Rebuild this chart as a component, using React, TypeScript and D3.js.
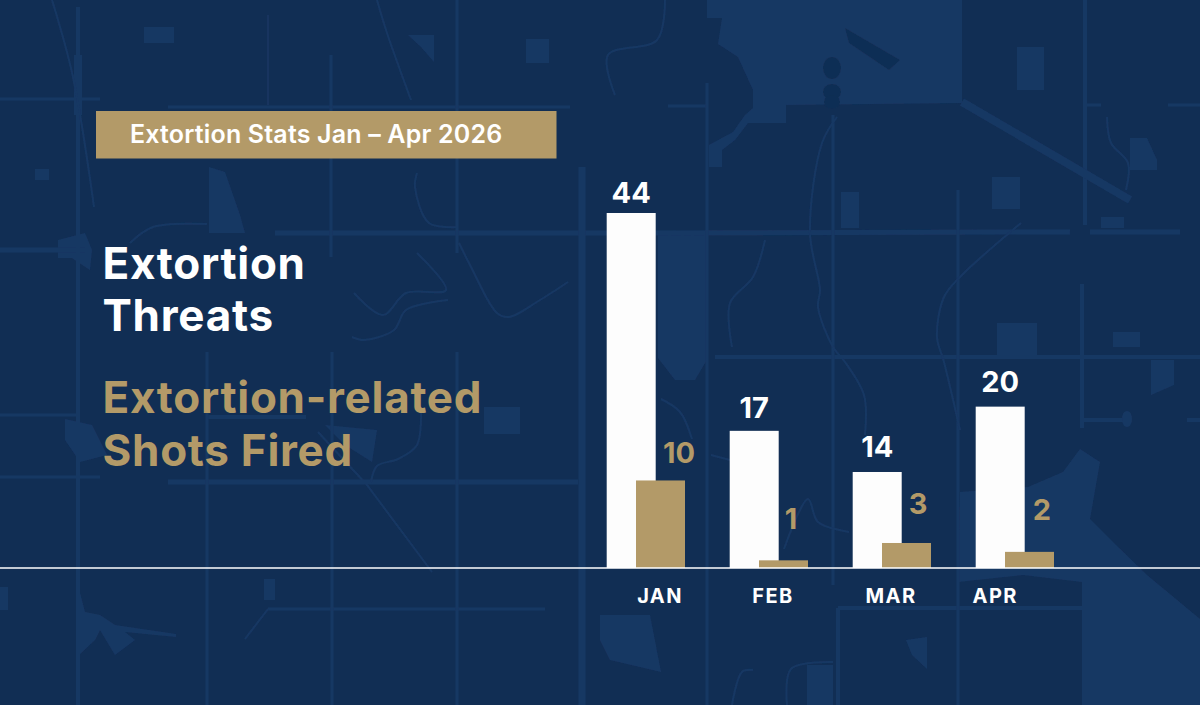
import * as d3 from "d3";

const months = ["JAN", "FEB", "MAR", "APR"];
const threats = [44, 17, 14, 20];
const shotsFired = [10, 1, 3, 2];
// the graphic does not draw every bar to its printed value, so lengths are read off separately
const threatBarLengths = [44, 17, 11.9, 20];
const shotBarLengths = [10.85, 0.95, 3.1, 2];

const width = 1200;
const height = 705;
const baseline = 568;
const barWidth = 49;
const barOverlap = 29.3;

const NAVY = "#112e54";
const ROAD = "#183763";
const TAN = "#b39a68";

// hand placed label nudges, same order as months
const monthLabelDx = [53.3, 43.3, 38.3, 19.5];
const threatLabelGap = [10, 12.7, 15, 14.4];
const shotLabelDx = [18.5, 7.5, 11.5, 12.5];
const shotLabelGap = [17.5, 31.5, 29, 32];

type Pt = [number, number];

// map backdrop
const mainRoads: [Pt[], number][] = [
  [[[0, 99], [100, 99]], 3],
  [[[0, 250], [85, 250]], 5],
  [[[0, 415], [80, 415]], 3],
  [[[0, 477], [100, 477]], 3],
  [[[275, 233], [600, 233], [1070, 232]], 5],
  [[[1090, 232], [1180, 232]], 5],
  [[[168, 107], [570, 107]], 3],
  [[[168, 482], [578, 482]], 5],
  [[[715, 357], [1200, 357]], 4],
  [[[207, 417], [306, 417]], 4],
  [[[268, 609], [545, 609]], 3],
  [[[838, 608], [1083, 608]], 4],
  [[[668, 106], [707, 106]], 3],
  [[[1086, 105], [1101, 105]], 3],
  [[[1168, 105], [1200, 105]], 3],
  [[[1082, 420], [1128, 420]], 4],
  [[[1187, 420], [1200, 420]], 4],
  [[[78, 7], [78, 705]], 4],
  [[[78, 55], [78, 115]], 8],
  [[[207, 352], [207, 705]], 3],
  [[[331, 55], [331, 257]], 3],
  [[[332, 352], [332, 705]], 3],
  [[[457, 0], [457, 253]], 3],
  [[[457, 352], [457, 705]], 3],
  [[[582, 167], [582, 705]], 7],
  [[[268, 15], [268, 105]], 1.5],
  [[[707, 83], [707, 705]], 3],
  [[[833, 115], [833, 585]], 3],
  [[[958, 190], [958, 705]], 3],
  [[[1085, 0], [1085, 225]], 4],
  [[[1082, 284], [1082, 428]], 4],
  [[[838, 608], [838, 705]], 4],
  [[[962, 102], [1130, 200]], 8],
  [[[318, 432], [367, 485], [432, 572]], 2],
];

const curvedRoads: Pt[][] = [
  [[130, 243], [153, 227], [207, 224]],
  [[377, 0], [387, 33], [411, 100]],
  [[417, 173], [415, 187], [429, 223], [457, 227]],
  [[459, 243], [471, 267], [497, 313], [509, 317], [540, 300], [568, 282]],
  [[417, 253], [446, 290], [406, 293], [383, 315], [354, 293]],
  [[448, 300], [406, 310], [394, 330], [364, 340], [352, 337]],
  [[52, 0], [73, 77], [94, 207]],
  [[421, 409], [417, 445], [398, 459], [377, 466], [371, 482]],
  [[245, 639], [268, 609]],
  [[665, 0], [657, 40], [608, 55], [615, 95]],
  [[837, 117], [822, 143], [810, 233], [820, 290], [818, 307], [833, 347], [845, 362], [864, 395], [865, 435]],
  [[1021, 223], [960, 277], [944, 297], [937, 337], [944, 362], [960, 430]],
  [[765, 240], [753, 277], [730, 303], [732, 347]],
  [[661, 399], [680, 412], [692, 439]],
  [[711, 455], [730, 460]],
  [[784, 549], [808, 499], [818, 522], [849, 532]],
  [[1107, 117], [1111, 143], [1128, 163], [1126, 190]],
  [[732, 705], [742, 672], [753, 670]],
  [[787, 705], [791, 669], [833, 662]],
];

const lightAreas: Pt[][] = [
  [[707, 0], [962, 0], [962, 103], [786, 105], [786, 123], [748, 123], [735, 140], [722, 150], [722, 167], [709, 167], [709, 145], [733, 132], [745, 115], [753, 108], [753, 90], [738, 57], [718, 44], [722, 18], [707, 18]],
  [[960, 492], [1028, 487], [1063, 472], [1080, 449], [1100, 462], [1090, 519], [1113, 542], [1147, 575], [1200, 619], [1200, 705], [1082, 705], [1082, 582], [1023, 575], [958, 582]],
  [[79, 589], [79, 655], [95, 640], [100, 630], [115, 655], [135, 640], [125, 632], [176, 637], [176, 634], [115, 625], [100, 615], [85, 612]],
  [[408, 35], [434, 35], [434, 62], [421, 47]],
  [[906, 640], [927, 637], [927, 669], [912, 655]],
  [[209, 167], [225, 172], [240, 215], [245, 233], [209, 233]],
  [[58, 240], [85, 233], [92, 250], [90, 270], [72, 258], [58, 258]],
  [[65, 419], [92, 425], [107, 455], [80, 462], [65, 440]],
  [[325, 425], [377, 430], [372, 462], [345, 445]],
  [[1151, 360], [1174, 360], [1174, 385], [1151, 395]],
  [[658, 232], [708, 232], [708, 358], [695, 380], [675, 380], [658, 358]],
  [[600, 615], [650, 615], [661, 672], [610, 660], [600, 640]],
  [[997, 323], [1037, 323], [1037, 357], [997, 357]],
  [[1130, 138], [1147, 138], [1157, 160], [1157, 170], [1130, 170]],
  [[807, 665], [833, 665], [833, 705], [807, 705]],
];

const blocks: [number, number, number, number][] = [
  [144, 27, 30, 16],
  [35, 169, 14, 11],
  [526, 39, 23, 24],
  [484, 407, 36, 27],
  [0, 587, 8, 23],
  [264, 579, 11, 21],
  [1017, 47, 27, 43],
  [992, 177, 28, 32],
  [841, 192, 18, 36],
  [1113, 332, 27, 15],
  [1101, 217, 23, 11],
];

const darkCutouts: Pt[][] = [[[845, 28], [900, 60], [889, 70], [849, 43]]];
const darkPonds: [number, number, number, number][] = [
  [832, 68, 9, 11],
  [832, 92, 9, 8],
  [832, 102, 8, 7],
];

const straight = d3.line<Pt>();
const curved = d3.line<Pt>().curve(d3.curveCatmullRom);

const x = d3.scaleBand<string>().domain(months).range([606.7, 606.7 + 123 * 4]);
const y = d3.scaleLinear().domain([0, 44]).range([baseline, 213]);

const fontFamily = "Inter, 'Open Sans', sans-serif";

const Backdrop = () => (
  <g filter="url(#soft)">
    {lightAreas.map((d, i) => (
      <path key={i} d={straight(d) + "Z"} fill={ROAD} />
    ))}
    {blocks.map((d, i) => (
      <rect key={i} x={d[0]} y={d[1]} width={d[2]} height={d[3]} fill={ROAD} />
    ))}
    {darkCutouts.map((d, i) => (
      <path key={i} d={straight(d) + "Z"} fill={NAVY} />
    ))}
    {darkPonds.map((d, i) => (
      <ellipse key={i} cx={d[0]} cy={d[1]} rx={d[2]} ry={d[3]} fill={NAVY} />
    ))}
    {mainRoads.map(([pts, w], i) => (
      <path key={i} d={straight(pts) ?? ""} fill="none" stroke={ROAD} strokeWidth={w} />
    ))}
    {curvedRoads.map((pts, i) => (
      <path key={i} d={curved(pts) ?? ""} fill="none" stroke={ROAD} strokeWidth={2} />
    ))}
    <ellipse cx={1127} cy={419} rx={5} ry={8} fill={ROAD} />
  </g>
);

const App = () => (
  <svg
    width={width}
    height={height}
    style={{ position: "absolute", left: 0, top: 0, display: "block" }}
    fontFamily={fontFamily}
  >
    <defs>
      <filter id="soft" x="0" y="0" width="100%" height="100%">
        <feGaussianBlur stdDeviation={0.7} />
      </filter>
    </defs>
    <rect width={width} height={height} fill={NAVY} />
    <Backdrop />

    <rect x={96} y={111} width={460.5} height={47.5} fill={TAN} />
    <text x={130} y={143} fill="white" fontSize={25} fontWeight={600} letterSpacing={0.17}>
      Extortion Stats Jan – Apr 2026
    </text>

    <g fontSize={44} fontWeight={700} letterSpacing={0.72}>
      <text x={102.5} y={279} fill="white">Extortion</text>
      <text x={102.5} y={331} fill="white">Threats</text>
      <text x={102.5} y={413} fill={TAN}>Extortion-related</text>
      <text x={102.5} y={466} fill={TAN}>Shots Fired</text>
    </g>

    {months.map((m, i) => {
      const bx = x(m) as number;
      return (
        <g key={m}>
          <rect
            x={bx}
            y={y(threatBarLengths[i])}
            width={barWidth}
            height={baseline - y(threatBarLengths[i])}
            fill="#fdfdfd"
          />
          <rect
            x={bx + barOverlap}
            y={y(shotBarLengths[i])}
            width={barWidth}
            height={baseline - y(shotBarLengths[i])}
            fill={TAN}
          />
          <text
            x={bx + barWidth / 2}
            y={y(threatBarLengths[i]) - threatLabelGap[i]}
            fill="white"
            fontSize={29}
            fontWeight={700}
            textAnchor="middle"
          >
            {threats[i]}
          </text>
          <text
            x={bx + barOverlap + barWidth / 2 + shotLabelDx[i]}
            y={y(shotBarLengths[i]) - shotLabelGap[i]}
            fill={TAN}
            fontSize={29}
            fontWeight={700}
            textAnchor="middle"
          >
            {shotsFired[i]}
          </text>
          <text
            x={bx + monthLabelDx[i]}
            y={602.7}
            fill="white"
            fontSize={20}
            fontWeight={700}
            letterSpacing={1.4}
            textAnchor="middle"
          >
            {m}
          </text>
        </g>
      );
    })}

    <line x1={0} x2={width} y1={baseline} y2={baseline} stroke="white" strokeWidth={1.6} />
  </svg>
);

export default App;
